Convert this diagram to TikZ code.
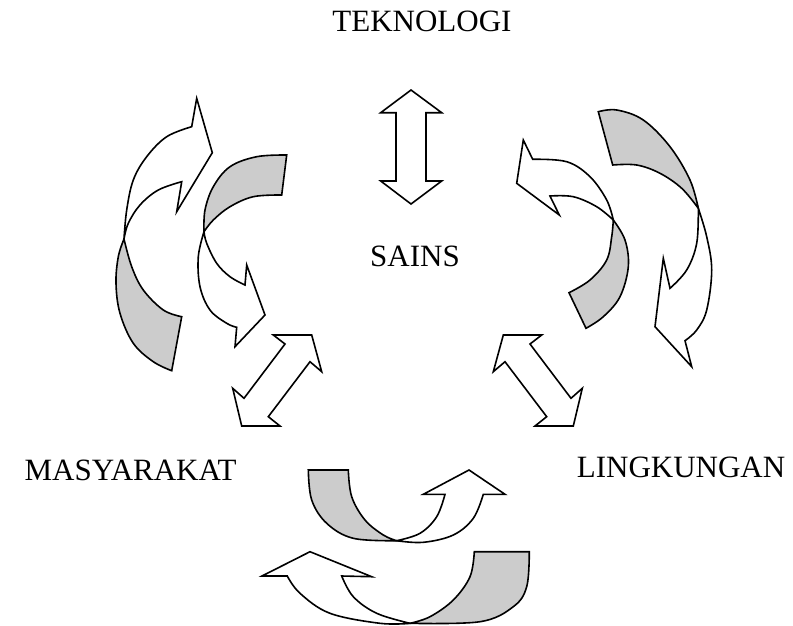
\documentclass[tikz,border=0pt]{standalone}
\usepackage{fontspec}
\setmainfont{Liberation Serif}
\definecolor{shadegray}{RGB}{204,204,204}
\tikzset{
  band/.style={draw=black, line width=1.6pt, line join=miter},
  shadeband/.style={band, fill=shadegray},
  whiteband/.style={band, fill=white},
  lbl/.style={inner sep=0pt, font=\fontsize{31}{36}\selectfont},
  sm/.style={smooth, tension=0.6}
}
\begin{document}
\begin{tikzpicture}[x=1pt,y=-1pt]
\useasboundingbox[fill=white] (0,0) rectangle (793,625);

% ---- text ----
\node[lbl, anchor=base] (tek) at (422,31.7) {TEKNOLOGI};
\node[lbl, anchor=base] (sains) at (415,266.7) {SAINS};
\node[lbl, anchor=base east] (mas) at (236.7,480.7) {MASYARAKAT};
\node[lbl, anchor=base west] (ling) at (576.7,477.3) {LINGKUNGAN};

% ---- straight double arrows ----
\path[whiteband] (411,90) -- (441.7,112.7) -- (426,112.7) -- (426,181) -- (441.7,181)
  -- (411,204) -- (380.7,181) -- (396,181) -- (396,112.7) -- (380.7,112.7) -- cycle;
\path[whiteband] (273.3,335) -- (311.7,335) -- (321.7,371.7) -- (310,361.7) -- (268.3,416.7)
  -- (280,426) -- (241.7,426) -- (232.7,388.3) -- (244,398.3) -- (285,344) -- cycle;
\path[whiteband] (541.7,335) -- (503.3,335) -- (493.3,371.7) -- (505,361.7) -- (546.7,416.7)
  -- (535,426) -- (573.3,426) -- (582.3,388.3) -- (571,398.3) -- (530,344) -- cycle;

% ---- left outer curved arrow ----
\path[shadeband] (124,239) -- plot[sm] coordinates {(124,239) (118.3,256.7) (116,283.3) (120,313.3) (133.3,343.3) (153.3,361.7) (171.7,370.7)}
  -- (181.7,316.7) -- plot[sm] coordinates {(181.7,316.7) (163.3,310) (143.3,290) (131.7,266.7) (124,239)} -- cycle;
\path[whiteband] (124,239) -- plot[sm] coordinates {(124,239) (126.7,210) (133.3,180) (146.7,156.7) (166.7,136.7) (191.7,126.7)}
  -- (196.7,98.3) -- (212.3,152.7) -- (176.7,211.7) -- (181.7,181.7)
  -- plot[sm] coordinates {(181.7,181.7) (158.3,190) (140,205) (128.3,223.3) (124,239)} -- cycle;

% ---- left inner curved arrow ----
\path[shadeband] (286.7,155) -- plot[sm] coordinates {(286.7,155) (256.7,156.7) (230,166.7) (213.3,186.7) (205,210) (204,231.7)}
  -- plot[sm] coordinates {(204,231.7) (213.3,220) (230,206.7) (253.3,196.7) (281.7,195)} -- cycle;
\path[whiteband] (204,231.7) -- plot[sm] coordinates {(204,231.7) (198.3,256.7) (200,286.7) (210,310) (226.7,323.3) (236.7,327.3)}
  -- (235,346.7) -- (265,315) -- (246.7,265) -- (245,285)
  -- plot[sm] coordinates {(245,285) (230,276.7) (216.7,263.3) (206.7,243.3) (204,231.7)} -- cycle;

% ---- right inner curved arrow ----
\path[shadeband] (613.3,220) -- plot[sm] coordinates {(613.3,220) (625,240) (628.3,266.7) (620,296.7) (603.3,316.7) (586,328.3)}
  -- (569,292.7) -- plot[sm] coordinates {(569,292.7) (590,280) (606.7,260) (611.7,236.7) (613.3,220)} -- cycle;
\path[whiteband] (613.3,220) -- plot[sm] coordinates {(613.3,220) (606.7,200) (590,176.7) (566.7,161.7) (532.7,159.3)}
  -- (523.3,140) -- (516.7,183.3) -- (559.3,215) -- (550,196)
  -- plot[sm] coordinates {(550,196) (573.3,196.7) (596.7,206.7) (613.3,220)} -- cycle;

% ---- right outer curved arrow ----
\path[shadeband] (598.3,111.7) -- plot[sm] coordinates {(598.3,111.7) (616.7,110) (643.3,120) (670,146.7) (690,180) (698.3,208.3)}
  -- plot[sm] coordinates {(698.3,208.3) (681.7,188.3) (660,173.3) (636.7,165) (612.7,165)} -- cycle;
\path[whiteband] (698.3,208.3) -- plot[sm] coordinates {(698.3,208.3) (706.7,236.7) (711.7,270) (706.7,310) (696.7,330) (685,340.7)}
  -- (691.7,366.7) -- (655,326.7) -- (663.3,258.3) -- (670,288.3)
  -- plot[sm] coordinates {(670,288.3) (686.7,270) (696.7,243.3) (698.3,208.3)} -- cycle;

% ---- bottom upper curved arrow ----
\path[shadeband] (308.3,470) -- (348.3,470) -- plot[sm] coordinates {(348.3,470) (351.7,496.7) (365,520) (383.3,535) (396.7,540.7)}
  -- plot[sm] coordinates {(396.7,540.7) (353.3,538.3) (326.7,523.3) (311.7,500) (308.3,470)} -- cycle;
\path[whiteband] (396.7,540.7) -- plot[sm] coordinates {(396.7,540.7) (423.3,542.3) (453.3,535) (473.3,518.3) (483.3,494.3)}
  -- (505,494.3) -- (469,470) -- (423.3,494.3) -- (445,494.3)
  -- plot[sm] coordinates {(445,494.3) (436.7,516.7) (420,533.3) (396.7,540.7)} -- cycle;

% ---- bottom lower curved arrow ----
\path[shadeband] (474.3,551.7) -- (529.3,551.7) -- plot[sm] coordinates {(529.3,551.7) (526.7,586.7) (513.3,606.7) (480,621.7) (410,623.3)}
  -- plot[sm] coordinates {(410,623.3) (430,616.7) (453.3,600) (470,576.7) (474.3,551.7)} -- cycle;
\path[whiteband] (410,623.3) -- plot[sm] coordinates {(410,623.3) (380,623.3) (330,613.3) (300,593.3) (287.3,576)}
  -- (262,576) -- (310,551.7) -- (371.7,576.7) -- (341.7,576)
  -- plot[sm] coordinates {(341.7,576) (353.3,596.7) (376.7,613.3) (410,623.3)} -- cycle;
\end{tikzpicture}
\end{document}
